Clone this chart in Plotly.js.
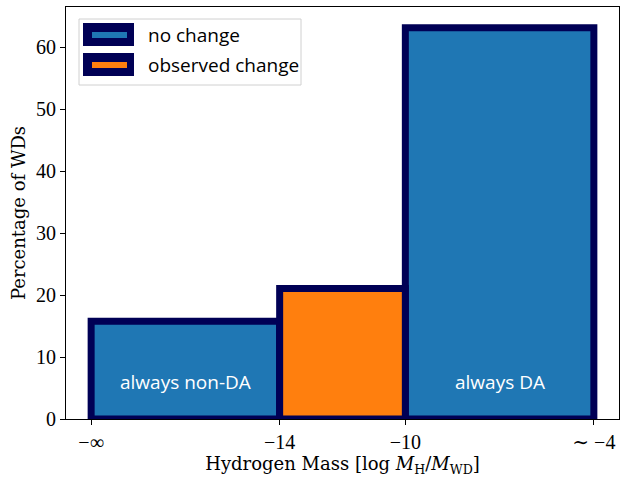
<!DOCTYPE html>
<html>
<head>
<meta charset="utf-8">
<script src="https://cdn.plot.ly/plotly-3.0.1.min.js"></script>
<style>html,body{margin:0;padding:0;background:#fff;}#chart{width:621px;height:477px;}</style>
</head>
<body>
<div id="chart"></div>
<script>
// ---- data ----
const binEdges = [-20, -14, -10, -4];            // log M_H/M_WD bin edges (-20 stands for -inf)
const percentages = [15.79, 21.05, 63.16];      // percentage of WDs per bin
const binStatus = ['no change', 'observed change', 'no change'];
const binLabels = ['always non-DA', '', 'always DA'];
const seriesNames = ['no change', 'observed change'];
const seriesColors = ['#1f77b4', '#ff7f0e'];
const xTickVals = [-20, -14, -10, -4];
const xTickText = ['\u2212\u221E', '\u221214', '\u221210', '\u223C \u22124'];
const yTickVals = [0, 10, 20, 30, 40, 50, 60];

// ---- build ----
const edgeColor = '#000055';
const centers = [], widths = [];
for (let i = 0; i < percentages.length; i++) {
  centers.push((binEdges[i] + binEdges[i + 1]) / 2);
  widths.push(binEdges[i + 1] - binEdges[i]);
}
const traces = seriesNames.map((name, s) => {
  const idx = binStatus.map((st, i) => st === name ? i : -1).filter(i => i >= 0);
  return {
    type: 'bar', name: name,
    x: idx.map(i => centers[i]), y: idx.map(i => percentages[i]), width: idx.map(i => widths[i]),
    marker: {color: seriesColors[s], line: {color: edgeColor, width: 7}},
    showlegend: false, hoverinfo: 'skip'
  };
});

const L = 66, R = 619, T = 7, B = 419;
const px = v => (v - L) / (R - L);
const py = v => (B - v) / (B - T);

const annotations = [];
binLabels.forEach((t, i) => {
  if (!t) return;
  annotations.push({x: centers[i], y: 6, xref: 'x', yref: 'y', text: t, showarrow: false,
    font: {family: 'Open Sans', size: 19, color: '#ffffff'}, xanchor: 'center', yanchor: 'middle'});
});
const shapes = [
  {type: 'rect', xref: 'paper', yref: 'paper', x0: px(79), x1: px(301), y0: py(85), y1: py(19),
   fillcolor: 'rgba(255,255,255,0.8)', line: {color: '#d0d0d0', width: 1}, layer: 'above'}
];
seriesNames.forEach((n, s) => {
  const top = 23 + s * 30;
  shapes.push({type: 'rect', xref: 'paper', yref: 'paper', x0: px(83), x1: px(134), y0: py(top + 23), y1: py(top),
    fillcolor: edgeColor, line: {width: 0}, layer: 'above'});
  shapes.push({type: 'rect', xref: 'paper', yref: 'paper', x0: px(92), x1: px(127), y0: py(top + 15), y1: py(top + 9),
    fillcolor: seriesColors[s], line: {width: 0}, layer: 'above'});
  annotations.push({xref: 'paper', yref: 'paper', x: px(146), y: py(top + 11.5), text: n, showarrow: false,
    xanchor: 'left', yanchor: 'middle', font: {family: 'Open Sans', size: 19, color: '#000'}});
});

const serif = 'Liberation Serif, DejaVu Serif, serif';
const serifT = 'DejaVu Serif, serif';
const layout = {
  width: 621, height: 477,
  margin: {l: L, r: 621 - R, t: T, b: 477 - B},
  paper_bgcolor: '#fff', plot_bgcolor: '#fff',
  barmode: 'overlay', bargap: 0,
  xaxis: {range: [-20.8, -3.2], tickvals: xTickVals, ticktext: xTickText, ticks: 'outside', ticklen: 5,
    tickwidth: 1, tickcolor: '#000', showgrid: false, zeroline: false, showline: true, mirror: true,
    linecolor: '#000', linewidth: 1, tickfont: {family: serif, size: 20, color: '#000'},
    title: {text: 'Hydrogen Mass [log <i>M</i><sub>H</sub>/<i>M</i><sub>WD</sub>]', font: {family: serifT, size: 18, color: '#000'}, standoff: 3}},
  yaxis: {range: [0, 66.5], tickvals: yTickVals, ticks: 'outside', ticklen: 5, tickwidth: 1, tickcolor: '#000',
    showgrid: false, zeroline: false, showline: true, mirror: true, linecolor: '#000', linewidth: 1,
    tickfont: {family: serif, size: 20, color: '#000'},
    title: {text: 'Percentage of WDs', font: {family: serifT, size: 18, color: '#000'}, standoff: 5}},
  shapes: shapes, annotations: annotations, showlegend: false
};
Plotly.newPlot('chart', traces, layout, {displayModeBar: false, staticPlot: true});
</script>
</body>
</html>
